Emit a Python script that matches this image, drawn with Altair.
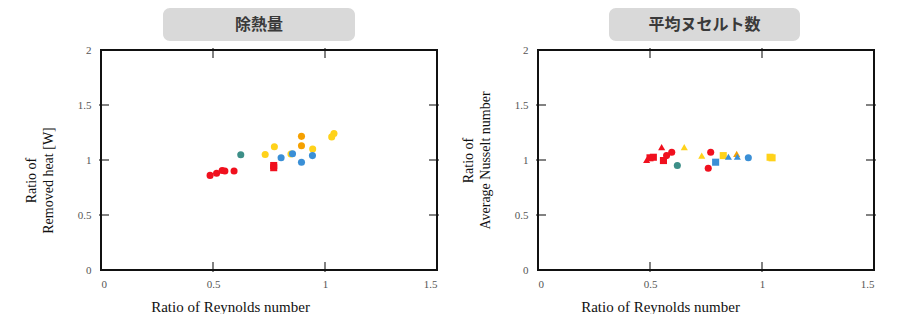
import altair as alt
import pandas as pd

# ---- data ----
left_x = [0.487, 0.516, 0.541, 0.553, 0.594, 0.771, 0.771, 0.624,
          0.733, 0.774, 0.848, 0.945, 1.04, 1.03, 0.895, 0.895,
          0.804, 0.855, 0.895, 0.944]
left_y = [0.86, 0.88, 0.905, 0.90, 0.90, 0.95, 0.93, 1.048,
          1.05, 1.12, 1.055, 1.10, 1.24, 1.21, 1.215, 1.13,
          1.02, 1.057, 0.98, 1.04]
left_g = ["red"] * 7 + ["teal"] + ["yellow"] * 6 + ["orange"] * 2 + ["blue"] * 4
left_s = ["circle"] * 5 + ["square"] * 2 + ["circle"] * 13

right_x = [0.485, 0.50, 0.515, 0.552, 0.56, 0.574, 0.597, 0.771, 0.76,
           0.622, 0.653, 0.731, 0.827, 1.036, 1.045, 0.887,
           0.793, 0.85, 0.89, 0.939]
right_y = [1.0, 1.02, 1.025, 1.117, 0.995, 1.04, 1.07, 1.07, 0.925,
           0.95, 1.117, 1.04, 1.04, 1.025, 1.02, 1.056,
           0.98, 1.03, 1.03, 1.02]
right_g = ["red"] * 9 + ["teal"] + ["yellow"] * 5 + ["orange"] + ["blue"] * 4
right_s = ["triangle-up", "square", "square", "triangle-up", "square", "circle", "circle", "circle", "circle",
           "circle", "triangle-up", "triangle-up", "square", "square", "square", "triangle-up",
           "square", "triangle-up", "triangle-up", "circle"]

groups = ["red", "orange", "yellow", "blue", "teal"]
group_colors = ["#f0101e", "#f5a000", "#ffd21a", "#3a8fd6", "#3d8f88"]

x_ticks = [0.5, 1.0]
y_ticks = [0.5, 1.0, 1.5]
x_axis_values = [0, 0.5, 1, 1.5]
y_axis_values = [0, 0.5, 1, 1.5, 2]

W, H = 336, 220
SERIF = "Liberation Serif"
FRAME = "#111111"


def panel(xs, ys, gs, ss, box_title, ytitle, xtitle_x, ytitle_y, box_x, box_x2):
    df = pd.DataFrame({"x": xs, "y": ys, "g": gs, "s": ss})
    xscale = alt.Scale(domain=[0, 1.5], nice=False)
    yscale = alt.Scale(domain=[0, 2], nice=False)
    pts = alt.Chart(df).mark_point(filled=True, size=50, opacity=1).encode(
        x=alt.X("x:Q", scale=xscale,
                axis=alt.Axis(values=x_axis_values, labelExpr="'' + datum.value",
                              ticks=False, domain=False, grid=False,
                              labelFont=SERIF, labelFontSize=11, labelColor="#555555",
                              labelPadding=8,
                              title="Ratio of  Reynolds number", titleFont=SERIF,
                              titleFontSize=15, titleFontWeight="normal", titleColor="#111111",
                              titlePadding=10, titleX=xtitle_x)),
        y=alt.Y("y:Q", scale=yscale,
                axis=alt.Axis(values=y_axis_values, labelExpr="'' + datum.value",
                              ticks=False, domain=False, grid=False,
                              labelFont=SERIF, labelFontSize=11, labelColor="#555555",
                              labelPadding=10,
                              title=ytitle, titleFont=SERIF, titleFontSize=14,
                              titleFontWeight="normal", titleColor="#111111",
                              titlePadding=22, titleY=ytitle_y, titleLineHeight=17)),
        color=alt.Color("g:N", scale=alt.Scale(domain=groups, range=group_colors), legend=None),
        shape=alt.Shape("s:N", scale=alt.Scale(domain=["circle", "square", "triangle-up"],
                                               range=["circle", "square", "triangle-up"]),
                        legend=None),
    )
    tx = pd.DataFrame({"v": x_ticks})
    ty = pd.DataFrame({"v": y_ticks})
    # inner ticks (filled tick marks, mostly inside the frame)
    bt = alt.Chart(tx).mark_tick(color=FRAME, size=10, thickness=1.5, orient="vertical").encode(
        x=alt.X("v:Q", scale=xscale), y=alt.value(H - 3))
    tt = alt.Chart(tx).mark_tick(color=FRAME, size=10, thickness=1.5, orient="vertical").encode(
        x=alt.X("v:Q", scale=xscale), y=alt.value(3))
    lt = alt.Chart(ty).mark_tick(color=FRAME, size=10, thickness=1.5, orient="horizontal").encode(
        y=alt.Y("v:Q", scale=yscale), x=alt.value(3))
    rt = alt.Chart(ty).mark_tick(color=FRAME, size=10, thickness=1.5, orient="horizontal").encode(
        y=alt.Y("v:Q", scale=yscale), x=alt.value(W - 3))
    tdf = pd.DataFrame({"t": [box_title]})
    # frame as four filled bars
    f_top = alt.Chart(tdf).mark_rect(color=FRAME).encode(
        x=alt.value(-1), x2=alt.value(W + 1), y=alt.value(-1), y2=alt.value(1))
    f_bot = alt.Chart(tdf).mark_rect(color=FRAME).encode(
        x=alt.value(-1), x2=alt.value(W + 1), y=alt.value(H - 1), y2=alt.value(H + 1))
    f_lft = alt.Chart(tdf).mark_rect(color=FRAME).encode(
        x=alt.value(-1), x2=alt.value(1), y=alt.value(-1), y2=alt.value(H + 1))
    f_rgt = alt.Chart(tdf).mark_rect(color=FRAME).encode(
        x=alt.value(W - 1), x2=alt.value(W + 1), y=alt.value(-1), y2=alt.value(H + 1))
    box = alt.Chart(tdf).mark_rect(fill="#d9d9d9", cornerRadius=7).encode(
        x=alt.value(box_x), x2=alt.value(box_x2), y=alt.value(-42), y2=alt.value(-9))
    txt = alt.Chart(tdf).mark_text(font="Noto Sans CJK JP", fontSize=16, fontWeight="bold",
                                   color="#3a3a3a").encode(
        text="t:N", x=alt.value((box_x + box_x2) / 2), y=alt.value(-25))
    return alt.layer(box, txt, pts, f_top, f_bot, f_lft, f_rgt, bt, tt, lt, rt).properties(
        width=W, height=H)


left = panel(left_x, left_y, left_g, left_s, "除熱量",
             ["Ratio of", "Removed heat [W]"], 129, 130, 62, 254)
right = panel(right_x, right_y, right_g, right_s, "平均ヌセルト数",
              ["Ratio of", "Average Nusselt number"], 122, 110, 71, 262)

chart = alt.hconcat(left, right, spacing=22).properties(
    padding={"left": 16, "top": 0, "right": 0, "bottom": 0},
    background="white",
).configure_view(strokeWidth=0)

chart.save("out.html", embed_options={"renderer": "svg", "actions": False})
